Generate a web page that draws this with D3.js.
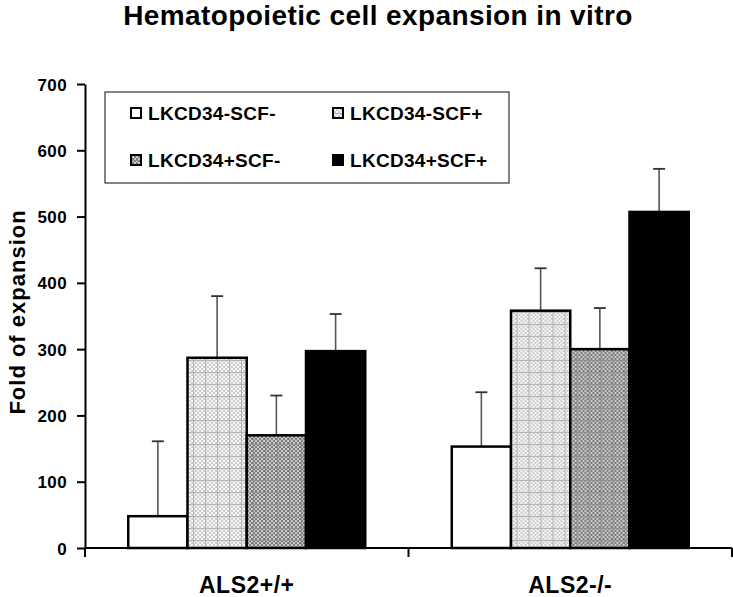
<!DOCTYPE html>
<html>
<head>
<meta charset="utf-8">
<script src="https://cdn.jsdelivr.net/npm/d3@7"></script>
<style>
  html, body { margin: 0; padding: 0; background: #fff; }
  svg text { font-family: Arial, "Liberation Sans", sans-serif; font-weight: bold; fill: #000; }
</style>
</head>
<body>
<svg id="chart" width="733" height="597"></svg>
<script>
// Gegevens
var groups = ['ALS2+/+', 'ALS2-/-'];
var series = ['LKCD34-SCF-', 'LKCD34-SCF+', 'LKCD34+SCF-', 'LKCD34+SCF+'];
var meansWT = [48, 287, 170, 297];
var meansKO = [153, 358, 300, 507];
var errWT = [113, 93, 60, 56];
var errKO = [82, 64, 62, 65];
var yTicks = [0, 100, 200, 300, 400, 500, 600, 700];

var means = [meansWT, meansKO];
var errs = [errWT, errKO];

var svg = d3.select('#chart');

// ---- patronen: schaakbord van 2px met een raster om de 12px -------------
var defs = svg.append('defs');

function checker(id, bg, fg) {
    var p = defs.append('pattern').attr('id', id)
        .attr('patternUnits', 'userSpaceOnUse').attr('width', 4).attr('height', 4);
    p.append('rect').attr('width', 4).attr('height', 4).attr('fill', bg);
    p.append('rect').attr('width', 2).attr('height', 2).attr('fill', fg);
    p.append('rect').attr('x', 2).attr('y', 2).attr('width', 2).attr('height', 2).attr('fill', fg);
}
function gridded(id, chk, line) {
    var p = defs.append('pattern').attr('id', id)
        .attr('patternUnits', 'userSpaceOnUse').attr('width', 12).attr('height', 12);
    p.append('rect').attr('width', 12).attr('height', 12).attr('fill', 'url(#' + chk + ')');
    p.append('rect').attr('width', 12).attr('height', 1).attr('fill', line);
    p.append('rect').attr('width', 1).attr('height', 12).attr('fill', line);
}
checker('chkLight', '#f6f6f6', '#cdcdcd');
gridded('patLight', 'chkLight', '#b4b4b4');
checker('chkMed', '#cacaca', '#7c7c7c');
gridded('patMed', 'chkMed', '#8e8e8e');

var fills = ['#ffffff', 'url(#patLight)', 'url(#patMed)', '#000000'];

// ---- schalen ----------------------------------------------------------
var x0 = d3.scaleBand().domain(groups).range([85, 732]).padding(0);
var x1 = d3.scaleBand().domain(series).range([0, x0.bandwidth()]).paddingInner(0).paddingOuter(0.73);
var y = d3.scaleLinear().domain([0, 700]).range([548, 84]);

// ---- titel ------------------------------------------------------------
svg.append('text')
    .attr('x', 378).attr('y', 25)
    .attr('text-anchor', 'middle')
    .style('font-size', '28px')
    .style('letter-spacing', '0.4px')
    .text('Hematopoietic cell expansion in vitro');

// ---- staven -----------------------------------------------------------
var gGroups = svg.selectAll('g.grp')
    .data(groups)
    .join('g')
    .attr('class', 'grp')
    .attr('transform', function (d) { return 'translate(' + x0(d) + ',0)'; });

// foutbalken eerst, zodat de staaf er overheen valt
gGroups.each(function (g, gi) {
    var sel = d3.select(this);
    var rows = series.map(function (s, si) {
        return { s: s, si: si, v: means[gi][si], e: errs[gi][si] };
    });
    var eb = sel.selectAll('g.err').data(rows).join('g').attr('class', 'err');
    eb.append('line')
        .attr('x1', function (d) { return x1(d.s) + x1.bandwidth() / 2; })
        .attr('x2', function (d) { return x1(d.s) + x1.bandwidth() / 2; })
        .attr('y1', function (d) { return y(d.v); })
        .attr('y2', function (d) { return y(d.v + d.e); })
        .attr('stroke', '#555').attr('stroke-width', 1.6);
    eb.append('line')
        .attr('x1', function (d) { return x1(d.s) + x1.bandwidth() / 2 - 6; })
        .attr('x2', function (d) { return x1(d.s) + x1.bandwidth() / 2 + 6; })
        .attr('y1', function (d) { return y(d.v + d.e); })
        .attr('y2', function (d) { return y(d.v + d.e); })
        .attr('stroke', '#333').attr('stroke-width', 1.8);

    sel.selectAll('rect.bar').data(rows).join('rect')
        .attr('class', 'bar')
        .attr('x', function (d) { return x1(d.s); })
        .attr('width', x1.bandwidth())
        .attr('y', function (d) { return y(d.v); })
        .attr('height', function (d) { return y(0) - y(d.v); })
        .attr('fill', function (d) { return fills[d.si]; })
        .attr('stroke', '#000').attr('stroke-width', 2.5);
});

// ---- assen ------------------------------------------------------------
var yAxis = svg.append('g')
    .attr('transform', 'translate(85,0)')
    .call(d3.axisLeft(y).tickValues(yTicks).tickSize(8).tickPadding(10).tickSizeOuter(0));
yAxis.select('.domain').attr('stroke', '#000').attr('stroke-width', 2);
yAxis.selectAll('.tick line').attr('stroke', '#000').attr('stroke-width', 2);
yAxis.selectAll('.tick text')
    .style('font-size', '17px').style('letter-spacing', '0.4px')
    .style('font-family', 'Arial, "Liberation Sans", sans-serif')
    .attr('dy', '0.36em');

var xAxis = svg.append('g').attr('transform', 'translate(0,548)');
xAxis.append('line')
    .attr('x1', x0.range()[0]).attr('x2', x0.range()[1])
    .attr('stroke', '#000').attr('stroke-width', 2);
var bounds = groups.map(function (g) { return x0(g); }).concat([x0.range()[1]]);
xAxis.selectAll('line.xt').data(bounds).join('line')
    .attr('class', 'xt')
    .attr('x1', function (d) { return d; }).attr('x2', function (d) { return d; })
    .attr('y1', 0).attr('y2', 9)
    .attr('stroke', '#000').attr('stroke-width', 2);
xAxis.selectAll('text').data(groups).join('text')
    .attr('x', function (d) { return x0(d) + x0.bandwidth() / 2; })
    .attr('y', 45)
    .attr('text-anchor', 'middle')
    .style('font-size', '23px').style('letter-spacing', '0.5px')
    .text(function (d) { return d; });

svg.append('text')
    .attr('transform', 'translate(25,312) rotate(-90)')
    .attr('text-anchor', 'middle')
    .style('font-size', '22px').style('letter-spacing', '1px')
    .text('Fold of expansion');

// ---- legenda ----------------------------------------------------------
var legend = svg.append('g');
legend.append('rect')
    .attr('x', 105).attr('y', 92).attr('width', 404).attr('height', 91)
    .attr('fill', '#fff').attr('stroke', '#333').attr('stroke-width', 1.2);

var legendPos = [[130, 113], [332, 113], [130, 160], [332, 160]];
var li = legend.selectAll('g.li').data(series).join('g')
    .attr('class', 'li')
    .attr('transform', function (d, i) { return 'translate(' + legendPos[i][0] + ',' + legendPos[i][1] + ')'; });
li.append('rect')
    .attr('x', 1).attr('y', -5).attr('width', 10).attr('height', 10)
    .attr('fill', function (d, i) { return fills[i]; })
    .attr('stroke', '#000').attr('stroke-width', 2);
li.append('text')
    .attr('x', 18).attr('y', 0).attr('dy', '0.36em')
    .style('font-size', '19px').style('letter-spacing', '0.3px')
    .text(function (d) { return d; });
</script>
</body>
</html>
